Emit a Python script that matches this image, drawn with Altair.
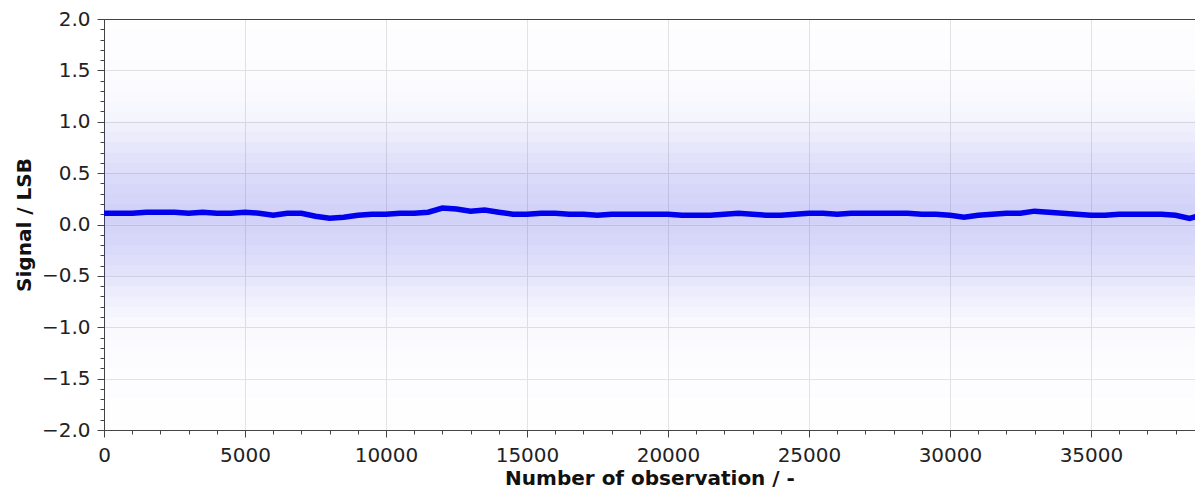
import altair as alt
import pandas as pd

obs = list(range(0, 39001, 500))
signal = [
    0.11, 0.11, 0.11, 0.12, 0.12, 0.12, 0.11, 0.12, 0.11, 0.11,   # 0 - 4500
    0.12, 0.11, 0.09, 0.11, 0.11, 0.08, 0.06, 0.07, 0.09, 0.10,   # 5000 - 9500
    0.10, 0.11, 0.11, 0.12, 0.16, 0.15, 0.13, 0.14, 0.12, 0.10,   # 10000 - 14500
    0.10, 0.11, 0.11, 0.10, 0.10, 0.09, 0.10, 0.10, 0.10, 0.10,   # 15000 - 19500
    0.10, 0.09, 0.09, 0.09, 0.10, 0.11, 0.10, 0.09, 0.09, 0.10,   # 20000 - 24500
    0.11, 0.11, 0.10, 0.11, 0.11, 0.11, 0.11, 0.11, 0.10, 0.10,   # 25000 - 29500
    0.09, 0.07, 0.09, 0.10, 0.11, 0.11, 0.13, 0.12, 0.11, 0.10,   # 30000 - 34500
    0.09, 0.09, 0.10, 0.10, 0.10, 0.10, 0.09, 0.06, 0.10,         # 35000 - 39000
]

# ---- density of the raw scatter cloud, per 0.1 LSB band (read as shade) ----
band_lo = [round(-2.0 + 0.1 * i, 1) for i in range(40)]
band_hi = [round(v + 0.1, 1) for v in band_lo]
band_density = [
    0.004, 0.004, 0.005, 0.006, 0.007, 0.009, 0.011, 0.014, 0.018, 0.024,  # -2.0 .. -1.1
    0.033, 0.046, 0.063, 0.085, 0.110, 0.130, 0.150, 0.165, 0.180, 0.190,  # -1.0 .. -0.1
    0.200, 0.200, 0.190, 0.180, 0.165, 0.150, 0.130, 0.110, 0.085, 0.065,  #  0.0 ..  0.9
    0.047, 0.034, 0.025, 0.018, 0.014, 0.011, 0.009, 0.007, 0.006, 0.005,  #  1.0 ..  1.9
]

x_major = [0, 5000, 10000, 15000, 20000, 25000, 30000, 35000]
x_minor = list(range(0, 38700, 1000))
y_major = [-2.0, -1.5, -1.0, -0.5, 0.0, 0.5, 1.0, 1.5, 2.0]
y_minor = [round(-2.0 + 0.1 * i, 1) for i in range(41)]

line_df = pd.DataFrame({"obs": obs, "sig": signal})
band_df = pd.DataFrame({"lo": band_lo, "hi": band_hi, "dens": band_density})

FONT = "DejaVu Sans"
SPINE = "#444444"
GRID = "#e4e4e4"
CLOUD = "#2020e0"

xscale = alt.Scale(domain=[0, 38690], nice=False, zero=False)
yscale = alt.Scale(domain=[-2, 2], nice=False, zero=False)

y_major_axis = alt.Axis(
    orient="left", values=y_major, format=".1f", grid=True, gridColor=GRID,
    domain=True, domainColor=SPINE, domainWidth=1,
    tickSize=7, tickColor=SPINE, labelPadding=7,
    labelFont=FONT, labelFontSize=20, labelColor="#222222", labelFlush=False,
    title="Signal / LSB", titleFont=FONT, titleFontSize=20, titleFontWeight="bold",
    titleColor="#111111", titleBaseline="alphabetic", titleX=-74, titleY=205.5,
    titleAngle=270,
)
y_minor_axis = alt.Axis(
    orient="left", values=y_minor, labels=False, grid=False, domain=False,
    tickSize=4, tickColor=SPINE, title=None,
)
x_major_axis = alt.Axis(
    orient="bottom", values=x_major, format="d", grid=True, gridColor=GRID,
    domain=True, domainColor=SPINE, domainWidth=1,
    tickSize=7, tickColor=SPINE, labelPadding=8,
    labelFont=FONT, labelFontSize=20, labelColor="#222222", labelFlush=False,
    labelOverlap=False,
    title="Number of observation / -", titleFont=FONT, titleFontSize=20,
    titleFontWeight="bold", titleColor="#111111", titleBaseline="alphabetic",
    titleY=54,
)
x_minor_axis = alt.Axis(
    orient="bottom", values=x_minor, labels=False, grid=False, domain=False,
    tickSize=4, tickColor=SPINE, title=None,
)
x_top_axis = alt.Axis(
    orient="top", labels=False, ticks=False, grid=False, domain=True,
    domainColor=SPINE, domainWidth=1, title=None,
)

bands = alt.Chart(band_df).mark_rect(color=CLOUD, strokeWidth=0).encode(
    x=alt.value(0),
    x2=alt.value("width"),
    y=alt.Y("lo:Q", scale=yscale, axis=y_major_axis),
    y2="hi:Q",
    opacity=alt.Opacity("dens:Q", scale=None, legend=None),
)

ghost = alt.Chart(line_df).mark_line(opacity=0, clip=True).encode(
    x=alt.X("obs:Q", scale=xscale, axis=x_minor_axis),
    y=alt.Y("sig:Q", scale=yscale, axis=y_minor_axis),
)

ghost_top = alt.Chart(line_df).mark_line(opacity=0, clip=True).encode(
    x=alt.X("obs:Q", scale=xscale, axis=x_top_axis),
    y=alt.Y("sig:Q", scale=yscale, axis=None),
)

line = alt.Chart(line_df).mark_line(color="#0000ee", strokeWidth=5.5, clip=True).encode(
    x=alt.X("obs:Q", scale=xscale, axis=x_major_axis),
    y=alt.Y("sig:Q", scale=yscale, axis=None),
)

chart = (
    alt.layer(bands, ghost, ghost_top, line)
    .resolve_axis(x="independent", y="independent")
    .properties(
        width=1091,
        height=411,
        autosize=alt.AutoSizeParams(type="none"),
        padding={"left": 96, "top": 11, "right": 0, "bottom": 59},
        background="white",
    )
    .configure_view(stroke=None)
)

chart.save("out.html", embed_options={"renderer": "svg", "actions": False})
